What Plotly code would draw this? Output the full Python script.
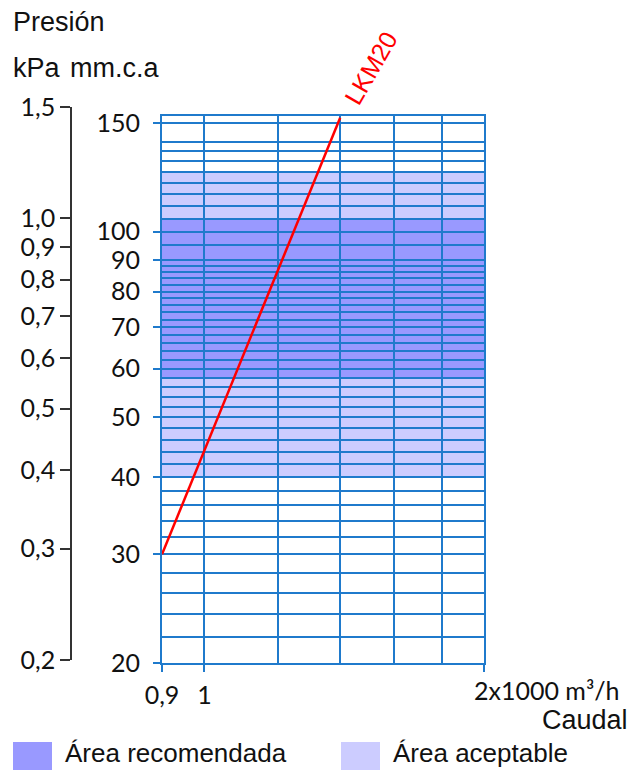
import math
import plotly.graph_objects as go

# ---------------- data ----------------
flow_ticks = [0.9, 1, 2]                      # x1000 m3/h
flow_tick_text = ["0,9", "1", ""]
flow_grid = [1.2, 1.4, 1.6, 1.8]

mm_ticks = [20, 30, 40, 50, 60, 70, 80, 90, 100, 150]   # mm.c.a
mm_tick_text = ["20", "30", "40", "50", "60", "70", "80", "90", "100", "150"]
mm_grid = [22, 24, 26, 28, 32, 34, 36, 38, 42, 44, 46, 48, 52, 54, 56, 58,
           62, 64, 66, 68, 72, 74, 76, 78, 82, 84, 86, 88, 95,
           105, 110, 115, 120, 125, 130, 135, 140]

kpa_ticks = [0.2, 0.3, 0.4, 0.5, 0.6, 0.7, 0.8, 0.9, 1.0, 1.5]
kpa_tick_text = ["0,2", "0,3", "0,4", "0,5", "0,6", "0,7", "0,8", "0,9", "1,0", "1,5"]

lkm20_flow = [0.9, 1.4]
lkm20_pressure = [30, 153]

acceptable_area = [40, 125]     # mm.c.a
recommended_area = [58, 105]    # mm.c.a

# ---------------- style ----------------
PAGE_W, PAGE_H = 638, 778
OFF = 8                      # default page body margin (both sides)
W, H = PAGE_W - 2 * OFF, PAGE_H - 2 * OFF
BLUE = "#1f7acc"
DARK = "#9999ff"
LIGHT = "#ccccff"
NUM_FONT = dict(family="Lato, Liberation Sans, sans-serif", size=25, color="#111")
TXT_FONT = dict(family="Liberation Sans, Arial, sans-serif", size=27, color="#111")
LEG_FONT = dict(family="Liberation Sans, Arial, sans-serif", size=26, color="#111")


def px_x(p):
    return (p - OFF) / W


def px_y(p):
    return 1 - (p - OFF) / H


x_dom = [px_x(162), px_x(484)]
y_dom = [px_y(663), px_y(116)]

fig = go.Figure()

fig.add_trace(go.Scatter(
    x=lkm20_flow, y=lkm20_pressure, mode="lines",
    line=dict(color="#ff0000", width=2.5),
    hoverinfo="skip", showlegend=False,
))

# helper (invisible) trace that carries the kPa axis
fig.add_trace(go.Scatter(
    x=[1] * len(kpa_ticks), y=kpa_ticks, xaxis="x2", yaxis="y2",
    mode="markers", marker=dict(opacity=0, size=1),
    hoverinfo="skip", showlegend=False,
))

# shaded areas
fig.add_shape(type="rect", xref="x domain", x0=0, x1=1, yref="y",
              y0=acceptable_area[0], y1=acceptable_area[1],
              fillcolor=LIGHT, line_width=0, layer="below")
fig.add_shape(type="rect", xref="x domain", x0=0, x1=1, yref="y",
              y0=recommended_area[0], y1=recommended_area[1],
              fillcolor=DARK, line_width=0, layer="below")

fig.update_layout(
    template="none",
    width=W, height=H, autosize=False,
    margin=dict(l=0, r=0, t=0, b=0, pad=0),
    paper_bgcolor="white", plot_bgcolor="white",
    showlegend=False,
    xaxis=dict(
        type="log", range=[math.log10(flow_ticks[0]), math.log10(flow_ticks[-1])],
        domain=x_dom, anchor="y", automargin=False,
        tickmode="array", tickvals=flow_ticks, ticktext=flow_tick_text,
        ticks="outside", ticklen=7, tickcolor=BLUE, tickwidth=1.5,
        tickfont=NUM_FONT, ticklabelstandoff=2,
        showgrid=True, gridcolor=BLUE, gridwidth=1.8,
        minor=dict(tickmode="array", tickvals=flow_grid, showgrid=True,
                   gridcolor=BLUE, gridwidth=1.8, ticks="", ticklen=0),
        showline=True, linecolor=BLUE, linewidth=2, mirror=True,
        zeroline=False,
    ),
    yaxis=dict(
        type="log", range=[math.log10(20), math.log10(154)],
        domain=y_dom, anchor="x", automargin=False,
        tickmode="array", tickvals=mm_ticks, ticktext=mm_tick_text,
        ticks="outside", ticklen=7, tickcolor=BLUE, tickwidth=1.5,
        tickfont=NUM_FONT, ticklabelstandoff=8,
        showgrid=True, gridcolor=BLUE, gridwidth=1.8,
        minor=dict(tickmode="array", tickvals=mm_grid, showgrid=True,
                   gridcolor=BLUE, gridwidth=1.8, ticks="", ticklen=0),
        showline=True, linecolor=BLUE, linewidth=2, mirror=True,
        zeroline=False,
    ),
    xaxis2=dict(
        range=[0, 2], domain=[px_x(72), px_x(73)], anchor="y2",
        visible=False, automargin=False,
    ),
    yaxis2=dict(
        type="log", range=[math.log10(kpa_ticks[0]), math.log10(kpa_ticks[-1])],
        domain=[px_y(660), px_y(107)], anchor="x2", side="left",
        automargin=False,
        tickmode="array", tickvals=kpa_ticks, ticktext=kpa_tick_text,
        ticks="outside", ticklen=10, tickcolor="#333", tickwidth=1.5,
        tickfont=NUM_FONT,
        showgrid=False, zeroline=False,
        showline=True, linecolor="#333", linewidth=1.5,
    ),
)

# texts
fig.add_annotation(text="Presión", xref="paper", yref="paper",
                   x=px_x(11), y=px_y(22), xanchor="left", yanchor="middle",
                   showarrow=False, font=TXT_FONT)
fig.add_annotation(text="kPa", xref="paper", yref="paper",
                   x=px_x(11), y=px_y(68), xanchor="left", yanchor="middle",
                   showarrow=False, font=TXT_FONT)
fig.add_annotation(text="mm.c.a", xref="paper", yref="paper",
                   x=px_x(68), y=px_y(68), xanchor="left", yanchor="middle",
                   showarrow=False, font=TXT_FONT)
fig.add_annotation(text="2x1000 m³/h", xref="x", yref="paper",
                   x=math.log10(flow_ticks[-1]), y=px_y(690), xshift=-12,
                   xanchor="left", yanchor="middle",
                   showarrow=False, font=NUM_FONT)
fig.add_annotation(text="Caudal", xref="paper", yref="paper",
                   x=1, y=px_y(720), xanchor="right", yanchor="middle",
                   showarrow=False, font=TXT_FONT)
fig.add_annotation(text="LKM20", xref="x", yref="y",
                   x=math.log10(lkm20_flow[-1]), y=math.log10(lkm20_pressure[-1]),
                   xanchor="left", yanchor="bottom", textangle=-60,
                   xshift=-4, yshift=6,
                   showarrow=False,
                   font=dict(family="Liberation Sans, Arial, sans-serif", size=25, color="#ff0000"))

# custom legend
fig.add_shape(type="rect", xref="paper", yref="paper",
              x0=px_x(13), x1=px_x(52), y0=0, y1=px_y(742),
              fillcolor=DARK, line_width=0)
fig.add_annotation(text="Área recomendada", xref="paper", yref="paper",
                   x=px_x(63), y=0, xanchor="left", yanchor="bottom",
                   showarrow=False, font=LEG_FONT)
fig.add_shape(type="rect", xref="paper", yref="paper",
              x0=px_x(341), x1=px_x(380), y0=0, y1=px_y(742),
              fillcolor=LIGHT, line_width=0)
fig.add_annotation(text="Área aceptable", xref="paper", yref="paper",
                   x=px_x(391), y=0, xanchor="left", yanchor="bottom",
                   showarrow=False, font=LEG_FONT)

fig.write_html("out.html")
